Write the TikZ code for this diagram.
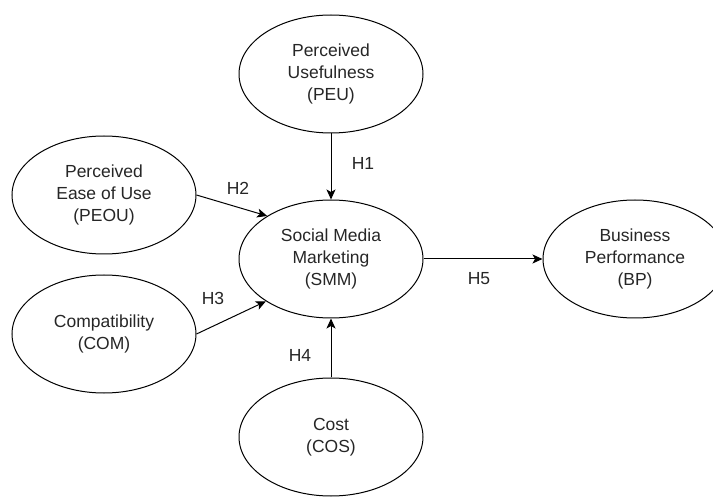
\documentclass[tikz,border=0pt]{standalone}
\usepackage{fontspec}
\setmainfont{Liberation Sans}
\usetikzlibrary{shapes.geometric,arrows.meta}
\begin{document}
\begin{tikzpicture}[x=1pt,y=-1pt,
  construct/.style={ellipse,draw,line width=1pt,minimum width=184pt,minimum height=118pt,inner sep=0pt,align=center,font=\fontsize{17.5}{22}\selectfont,text=black!85},
  hyp/.style={-{Stealth[length=10pt,width=9pt,inset=2.5pt]},line width=1pt},
  hlabel/.style={font=\fontsize{17.5}{21}\selectfont,text=black!85,inner sep=0pt}]
\useasboundingbox (0,0) rectangle (713,497);
\node[construct] (peu) at (331,74) {Perceived\\Usefulness\\(PEU)};
\node[construct] (smm) at (331,259) {Social Media\\Marketing\\(SMM)};
\node[construct] (peou) at (104,195) {Perceived\\Ease of Use\\(PEOU)};
\node[construct] (com) at (104,334) {Compatibility\\(COM)};
\node[construct] (cos) at (331,437) {Cost\\(COS)};
\node[construct] (bp) at (635,259) {Business\\Performance\\(BP)};
\draw[hyp] (peu.south) -- (smm.north);
\draw[hyp] (peou.east) -- (smm.146);
\draw[hyp] (com.east) -- (smm.213);
\draw[hyp] (cos.north) -- (smm.south);
\draw[hyp] (smm.east) -- (bp.west);
\node[hlabel] (h1) at (363,163) {H1};
\node[hlabel] (h2) at (238,188) {H2};
\node[hlabel] (h3) at (213,298) {H3};
\node[hlabel] (h4) at (300,355) {H4};
\node[hlabel] (h5) at (479,279) {H5};
\end{tikzpicture}
\end{document}
